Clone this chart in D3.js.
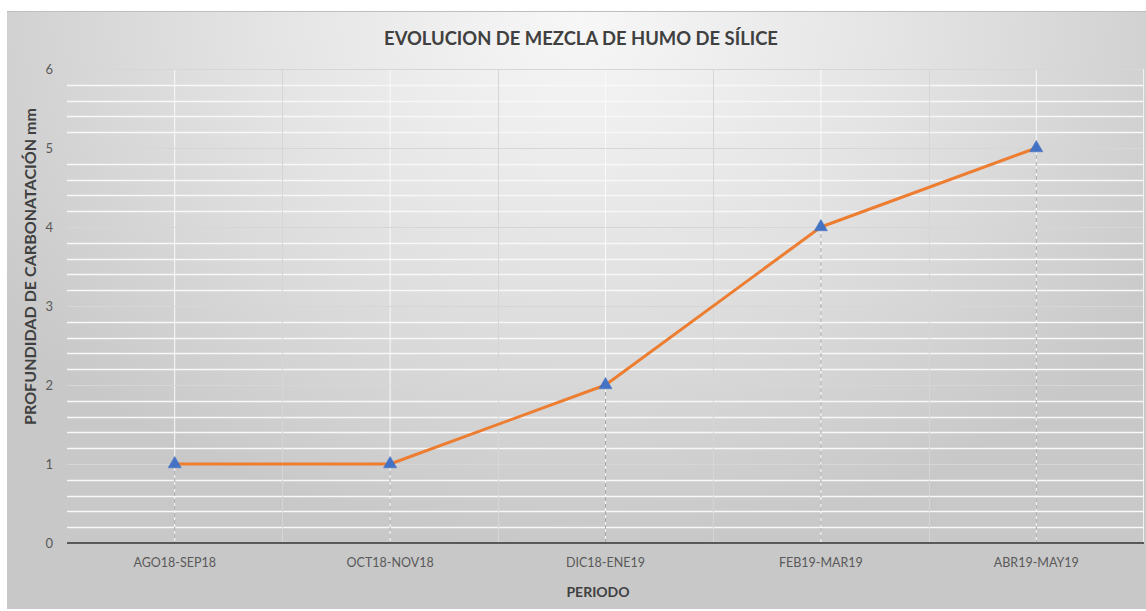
<!DOCTYPE html>
<html><head><meta charset="utf-8">
<script src="https://cdn.jsdelivr.net/npm/d3@7"></script>
<style>html,body{margin:0;padding:0;background:#fff;}svg{display:block;}</style>
</head><body>
<svg id="c" width="1146" height="611"></svg>
<script>
const categories = ["AGO18-SEP18","OCT18-NOV18","DIC18-ENE19","FEB19-MAR19","ABR19-MAY19"];
const values = [1,1,2,4,5];
const yTicks = [0,1,2,3,4,5,6];
const title = "EVOLUCION DE MEZCLA DE HUMO DE SÍLICE";
const xTitle = "PERIODO";
const yTitle = "PROFUNDIDAD DE CARBONATACIÓN mm";

const W=1146,H=611;
const svg=d3.select("#c");
const defs=svg.append("defs");
const rg=defs.append("radialGradient").attr("id","bg").attr("gradientUnits","userSpaceOnUse")
  .attr("cx",580).attr("cy",20).attr("r",700).attr("gradientTransform","translate(580,20) scale(1,0.75) translate(-580,-20)");
rg.append("stop").attr("offset","0").attr("stop-color","#f7f7f7");
rg.append("stop").attr("offset","0.45").attr("stop-color","#e4e4e4");
rg.append("stop").attr("offset","1").attr("stop-color","#c8c8c8");

svg.append("rect").attr("x",7).attr("y",11).attr("width",W-7).attr("height",598).attr("fill","url(#bg)");
svg.append("line").attr("x1",7).attr("x2",W).attr("y1",11.5).attr("y2",11.5).attr("stroke","#bdbdbd");

const m={l:67,r:1144,t:69,b:543};
const x=d3.scaleBand().domain(categories).range([m.l,m.r]);
const y=d3.scaleLinear().domain([0,6]).range([m.b,m.t]);
const g=svg.append("g");

const minor=d3.range(0,30).map(i=>i*0.2).filter(v=>Math.abs(v-Math.round(v))>1e-6);
g.append("g").selectAll("line").data(minor).join("line")
  .attr("x1",m.l).attr("x2",m.r).attr("y1",d=>Math.round(y(d))+0.5).attr("y2",d=>Math.round(y(d))+0.5)
  .attr("stroke","#f8f8f8").attr("stroke-width",1.5);
g.append("g").selectAll("line").data(categories).join("line")
  .attr("x1",d=>x(d)+x.bandwidth()/2).attr("x2",d=>x(d)+x.bandwidth()/2).attr("y1",m.t).attr("y2",m.b)
  .attr("stroke","#fafafa").attr("stroke-width",1);
g.append("g").selectAll("line").data(yTicks.slice(1)).join("line")
  .attr("x1",m.l).attr("x2",m.r).attr("y1",d=>Math.round(y(d))+0.5).attr("y2",d=>Math.round(y(d))+0.5)
  .attr("stroke","#d6d6d6").attr("stroke-width",1);
g.append("g").selectAll("line").data(categories.slice(1)).join("line")
  .attr("x1",d=>Math.round(x(d))+0.5).attr("x2",d=>Math.round(x(d))+0.5).attr("y1",m.t).attr("y2",m.b)
  .attr("stroke","#d6d6d6").attr("stroke-width",1);
g.append("line").attr("x1",m.r-0.5).attr("x2",m.r-0.5).attr("y1",m.t).attr("y2",m.b).attr("stroke","#f0f0f0");

g.append("g").selectAll("line").data(values).join("line")
  .attr("x1",(d,i)=>x(categories[i])+x.bandwidth()/2).attr("x2",(d,i)=>x(categories[i])+x.bandwidth()/2)
  .attr("y1",d=>y(d)).attr("y2",m.b)
  .attr("stroke","#a6a6a6").attr("stroke-width",1).attr("stroke-dasharray","4,3");

g.append("line").attr("x1",m.l).attr("x2",m.r).attr("y1",m.b).attr("y2",m.b).attr("stroke","#595959").attr("stroke-width",2);

const font="Lato, 'Open Sans', sans-serif";
const yAx=svg.append("g").attr("transform",`translate(${m.l},0)`).call(d3.axisLeft(y).tickValues(yTicks).tickFormat(d3.format("d")).tickSize(0).tickPadding(14));
yAx.select(".domain").remove();
yAx.selectAll("text").attr("font-family",font).attr("font-size",13).attr("fill","#595959");
const xAx=svg.append("g").attr("transform",`translate(0,${m.b})`).call(d3.axisBottom(x).tickSize(0).tickPadding(15));
xAx.select(".domain").remove();
xAx.selectAll("text").attr("font-family",font).attr("font-size",12.5).attr("fill","#595959");

const line=d3.line().x((d,i)=>x(categories[i])+x.bandwidth()/2).y(d=>y(d));
g.append("path").datum(values).attr("d",line).attr("fill","none").attr("stroke","#ed7d31").attr("stroke-width",3).attr("stroke-linejoin","round");
g.append("g").selectAll("path").data(values).join("path")
  .attr("transform",(d,i)=>`translate(${x(categories[i])+x.bandwidth()/2},${y(d)})`)
  .attr("d",d3.symbol().type(d3.symbolTriangle).size(75))
  .attr("fill","#4472c4").attr("stroke","#4472c4").attr("stroke-width",0.5);

svg.append("text").attr("x",581).attr("y",45).attr("text-anchor","middle").attr("font-family",font)
  .attr("font-weight","bold").attr("font-size",18.4).attr("fill","#404040").text(title);
svg.append("text").attr("x",598).attr("y",597).attr("text-anchor","middle").attr("font-family",font)
  .attr("font-weight","bold").attr("font-size",14).attr("fill","#404040").text(xTitle);
svg.append("text").attr("transform",`translate(36,266.5) rotate(-90)`).attr("text-anchor","middle").attr("font-family",font)
  .attr("font-weight","bold").attr("font-size",15).attr("textLength",317).attr("lengthAdjust","spacingAndGlyphs")
  .attr("fill","#404040").text(yTitle);
</script>
</body></html>
